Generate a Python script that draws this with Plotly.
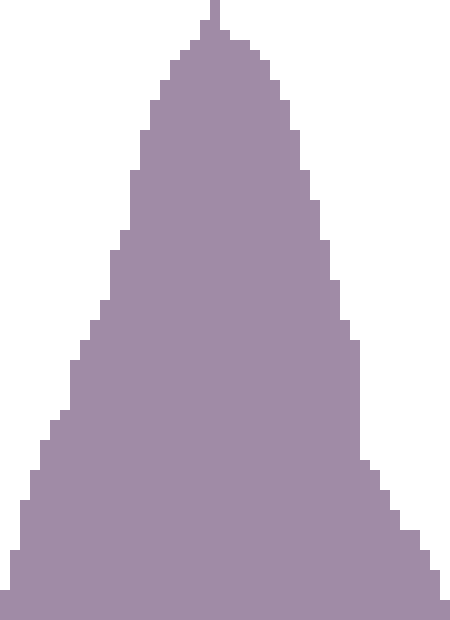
import plotly.graph_objects as go

bins = list(range(45))
counts = [3, 7, 12, 15, 18, 20, 21, 26, 28, 30,
          32, 37, 39, 45, 49, 52, 54, 56, 57, 58,
          60, 62, 59, 58, 58, 57, 56, 54, 52, 49,
          45, 42, 38, 34, 30, 28, 16, 15, 13, 11,
          9, 9, 7, 5, 2]

fig = go.Figure(go.Bar(x=bins, y=counts, hoverinfo="skip",
                       marker=dict(color="rgb(160,139,166)", line=dict(width=0))))
fig.update_layout(
    width=450, height=620,
    margin=dict(l=0, r=0, t=0, b=0),
    bargap=0,
    plot_bgcolor="white", paper_bgcolor="white",
    showlegend=False,
    hovermode=False,
    xaxis=dict(visible=False, range=[-0.5, 44.5]),
    yaxis=dict(visible=False, range=[0, 62]),
)
fig.write_html("out.html", config={"displayModeBar": False, "staticPlot": True},
               post_script="document.body.style.margin='0';document.body.style.overflow='hidden';")
